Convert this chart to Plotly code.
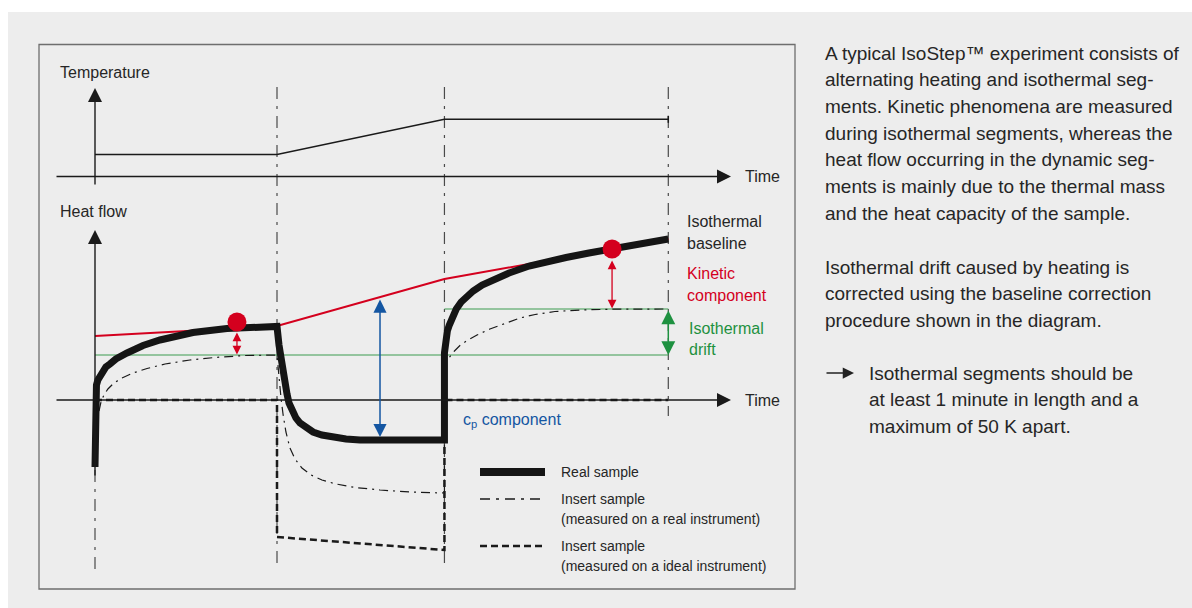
import plotly.graph_objects as go

# ---------------- data (schematic units: time in min, heat flow in mW, temperature in K) -------------
segment_times = [0, 10, 19.2, 31.5]
temperature_program = [25, 25, 65, 65]

real_t = [0, 0, 0.03, 0.08, 0.16, 0.27, 0.44, 0.60, 0.82, 1.15, 1.76, 2.64, 3.57, 5.38, 7.25, 8.79, 10.0,
          10.11, 10.22, 10.33, 10.44, 10.55, 10.66, 10.82, 11.04, 11.26, 11.59, 11.98, 12.47, 13.08,
          13.79, 14.56, 19.2,
          19.2, 19.23, 19.28, 19.36, 19.47, 19.63, 19.85, 20.12, 20.4, 20.78, 21.27, 21.93, 22.75,
          23.85, 24.95, 25.88, 27.14, 28.35, 29.9, 31.5]
real_hf = [-6.7, 0.3, 0.9, 1.5, 2.0, 2.4, 2.9, 3.3, 3.6, 4.1, 4.7, 5.45, 6.0, 6.75, 7.15, 7.3, 7.35,
           5.5, 4.0, 2.8, 1.6, 0.6, -0.3, -1.1, -1.8, -2.3, -2.8, -3.2, -3.5, -3.75,
           -3.9, -4.0, -4.0,
           4.7, 5.5, 6.2, 6.9, 7.5, 8.3, 9.1, 9.8, 10.3, 10.9, 11.5, 12.1, 12.7,
           13.4, 13.9, 14.25, 14.7, 15.1, 15.6, 16.1]

insert_real_t = [0.22, 0.33, 0.49, 0.71, 1.04, 1.48, 2.09, 2.86, 3.85, 5.22, 6.59, 8.24, 10.0,
                 10.11, 10.22, 10.33, 10.49, 10.71, 10.99, 11.37, 11.87, 12.47, 13.24, 14.29, 15.66,
                 17.31, 19.2,
                 19.2, 19.31, 19.48, 19.75, 20.05, 20.44, 20.99, 21.70, 22.53, 23.35, 24.18, 25.27,
                 26.65, 28.41, 31.5]
insert_real_hf = [-1.1, -0.2, 0.5, 1.1, 1.7, 2.2, 2.7, 3.15, 3.6, 4.0, 4.25, 4.45, 4.5,
                  2.2, 0.2, -1.4, -3.2, -4.8, -5.9, -6.8, -7.5, -8.0, -8.4, -8.75, -9.0,
                  -9.2, -9.3,
                  3.6, 3.9, 4.3, 4.9, 5.45, 5.95, 6.5, 7.1, 7.65, 8.2, 8.55, 8.85,
                  9.0, 9.08, 9.1]

insert_ideal_t = [0, 10, 10, 19.2, 19.2, 31.5]
insert_ideal_hf = [0, 0, -13.7, -15.0, 0, 0]

baseline_t = [0, 10, 19.2, 31.5]
baseline_hf = [6.4, 7.4, 12.1, 16.1]

marker_t = [7.8, 28.41]
marker_hf = [7.8, 15.1]

drift_low_t = [0, 31.5]
drift_low_hf = [4.5, 4.5]
drift_high_t = [19.2, 31.5]
drift_high_hf = [9.1, 9.1]

# arrows: (time, from, to)
kinetic_arrows = [(7.8, 6.9, 4.55), (28.41, 14.1, 9.15)]
drift_arrow = (31.5, 9.1, 4.5)
cp_arrow = (15.66, 10.2, -3.7)

para1 = ["A typical IsoStep™ experiment consists of",
         "alternating heating and isothermal seg-",
         "ments. Kinetic phenomena are measured",
         "during isothermal segments, whereas the",
         "heat flow occurring in the dynamic seg-",
         "ments is mainly due to the thermal mass",
         "and the heat capacity of the sample."]
para2 = ["Isothermal drift caused by heating is",
         "corrected using the baseline correction",
         "procedure shown in the diagram."]
para3 = ["Isothermal segments should be",
         "at least 1 minute in length and a",
         "maximum of 50 K apart."]

# ---------------- layout helpers -------------
W, H = 1192, 608
X0, KX = 95.0, 18.2      # px of t=0, px per minute
TY0, KT = 176.5, 0.88    # px of T=0, px per K
HY0, KH = 400.0, 10.0    # px of HF=0, px per mW
FONT = "Liberation Sans"
BLACK = "#1a1a1a"
RED = "#d4001e"
GREEN = "#1e9140"
BLUE = "#1456a2"


def PX(x):
    return x / W


def PY(y):
    return 1 - y / H


fig = go.Figure()

# green drift levels
fig.add_trace(go.Scatter(x=drift_low_t, y=drift_low_hf, yaxis="y2", mode="lines",
                         line=dict(color="#3c9c50", width=1.2), hoverinfo="skip"))
fig.add_trace(go.Scatter(x=drift_high_t, y=drift_high_hf, yaxis="y2", mode="lines",
                         line=dict(color="#3c9c50", width=1.2), hoverinfo="skip"))
# temperature program
fig.add_trace(go.Scatter(x=segment_times, y=temperature_program, yaxis="y", mode="lines",
                         line=dict(color=BLACK, width=1.5), hoverinfo="skip"))
# insert sample, ideal instrument
fig.add_trace(go.Scatter(x=insert_ideal_t, y=insert_ideal_hf, yaxis="y2", mode="lines",
                         line=dict(color=BLACK, width=2.5, dash="7px,4px"), hoverinfo="skip"))
# insert sample, real instrument
fig.add_trace(go.Scatter(x=insert_real_t, y=insert_real_hf, yaxis="y2", mode="lines",
                         line=dict(color=BLACK, width=1.2, dash="9px,5px,2px,5px"), hoverinfo="skip"))
# isothermal baseline (red)
fig.add_trace(go.Scatter(x=baseline_t, y=baseline_hf, yaxis="y2", mode="lines",
                         line=dict(color=RED, width=2), hoverinfo="skip"))
# real sample
fig.add_trace(go.Scatter(x=real_t, y=real_hf, yaxis="y2", mode="lines",
                         line=dict(color="#151515", width=7), hoverinfo="skip"))
# red points
fig.add_trace(go.Scatter(x=marker_t, y=marker_hf, yaxis="y2", mode="markers",
                         marker=dict(color=RED, size=19, line=dict(width=0)), hoverinfo="skip"))

shapes = []
# gray panel and frame
shapes.append(dict(type="rect", xref="paper", yref="paper", x0=PX(8), x1=PX(W), y0=PY(12), y1=PY(H),
                   fillcolor="#ededed", line=dict(width=0), layer="below"))
shapes.append(dict(type="rect", xref="paper", yref="paper", x0=PX(39), x1=PX(795), y0=PY(44.5), y1=PY(589),
                   fillcolor="rgba(0,0,0,0)", line=dict(color="#6e6e6e", width=1.3), layer="below"))
# segment dividers
div_spans = [(470, 570), (87, 567), (87, 567), (87, 416)]
for t, (ya, yb) in zip(segment_times, div_spans):
    shapes.append(dict(type="line", xref="x", yref="paper", x0=t, x1=t, y0=PY(ya), y1=PY(yb),
                       line=dict(color="#4a4a4a", width=1.2, dash="12px,7px,3px,7px"), layer="below"))
# end tick of temperature program
shapes.append(dict(type="line", xref="x", yref="y", x0=segment_times[-1], x1=segment_times[-1],
                   y0=temperature_program[-1] - 4, y1=temperature_program[-1] + 4,
                   line=dict(color=BLACK, width=1.5)))
# legend samples
shapes.append(dict(type="line", xref="paper", yref="paper", x0=PX(480), x1=PX(545), y0=PY(472), y1=PY(472),
                   line=dict(color="#151515", width=8)))
shapes.append(dict(type="line", xref="paper", yref="paper", x0=PX(480), x1=PX(545), y0=PY(499), y1=PY(499),
                   line=dict(color=BLACK, width=1.3, dash="10px,6px,3px,6px")))
shapes.append(dict(type="line", xref="paper", yref="paper", x0=PX(480), x1=PX(545), y0=PY(546), y1=PY(546),
                   line=dict(color=BLACK, width=2.5, dash="7px,4px")))

ann = []


def axis_arrow(hx, hy, tx, ty):
    ann.append(dict(xref="paper", yref="paper", x=PX(hx), y=PY(hy), axref="pixel", ayref="pixel",
                    ax=tx - hx, ay=ty - hy, text="", showarrow=True, arrowhead=2, arrowsize=2.0,
                    arrowwidth=1.4, arrowcolor=BLACK, standoff=0))


axis_arrow(731, 176.5, 55, 176.5)
axis_arrow(95, 88, 95, 186)
axis_arrow(731, 400, 55, 400)
axis_arrow(95, 230, 95, 477)


def data_arrow(t, a, b, color, width, size):
    ann.append(dict(xref="x", yref="y2", axref="x", ayref="y2", x=t, y=b, ax=t, ay=a, text="",
                    showarrow=True, arrowside="end+start", arrowhead=2, startarrowhead=2,
                    arrowsize=size, startarrowsize=size, arrowwidth=width, arrowcolor=color,
                    standoff=0, startstandoff=0))


for t, a, b in kinetic_arrows:
    data_arrow(t, a, b, RED, 1.3, 1.35)
data_arrow(*drift_arrow, GREEN, 1.5, 1.85)
data_arrow(*cp_arrow, BLUE, 1.5, 1.75)

# arrow bullet of the note
ann.append(dict(xref="paper", yref="paper", x=PX(854), y=PY(373), axref="pixel", ayref="pixel",
                ax=-29, ay=0, text="", showarrow=True, arrowhead=2, arrowsize=1.5,
                arrowwidth=1.5, arrowcolor="#222222", standoff=0))


def label(x, y, text, size, color):
    ann.append(dict(xref="paper", yref="paper", x=PX(x), y=PY(y), text=text, showarrow=False,
                    xanchor="left", yanchor="middle", borderpad=0,
                    font=dict(family=FONT, size=size, color=color)))


TXT = "#262626"
label(59, 72, "Temperature", 16, TXT)
label(59, 211, "Heat flow", 16, TXT)
label(744, 176.5, "Time", 16, TXT)
label(744, 400, "Time", 16, TXT)
label(686, 222, "Isothermal", 16, TXT)
label(686, 243, "baseline", 16, TXT)
label(686, 273, "Kinetic", 16, RED)
label(686, 295, "component", 16, RED)
label(688, 328, "Isothermal", 16, GREEN)
label(688, 349, "drift", 16, GREEN)
label(462, 420, "c<sub>p</sub> component", 16, BLUE)
label(560, 472, "Real sample", 14, TXT)
label(560, 499, "Insert sample", 14, TXT)
label(560, 519, "(measured on a real instrument)", 14, TXT)
label(560, 546, "Insert sample", 14, TXT)
label(560, 566, "(measured on a ideal instrument)", 14, TXT)

for i, line in enumerate(para1):
    label(824, 53 + i * 26.7, line, 19, TXT)
for i, line in enumerate(para2):
    label(824, 267 + i * 26.7, line, 19, TXT)
for i, line in enumerate(para3):
    label(868, 373 + i * 26.7, line, 19, TXT)

fig.update_layout(
    width=W, height=H, autosize=False,
    margin=dict(l=0, r=0, t=0, b=0, pad=0),
    paper_bgcolor="white", plot_bgcolor="rgba(0,0,0,0)",
    showlegend=False,
    xaxis=dict(range=[(0 - X0) / KX, (W - X0) / KX], visible=False, domain=[0, 1], fixedrange=True),
    yaxis=dict(range=[(TY0 - H) / KT, TY0 / KT], visible=False, domain=[0, 1], fixedrange=True),
    yaxis2=dict(range=[(HY0 - H) / KH, HY0 / KH], visible=False, overlaying="y", fixedrange=True),
    shapes=shapes,
    annotations=ann,
)

fig.write_html("out.html", config={"displayModeBar": False},
               post_script="document.body.style.margin='0';document.body.style.overflow='hidden';")
